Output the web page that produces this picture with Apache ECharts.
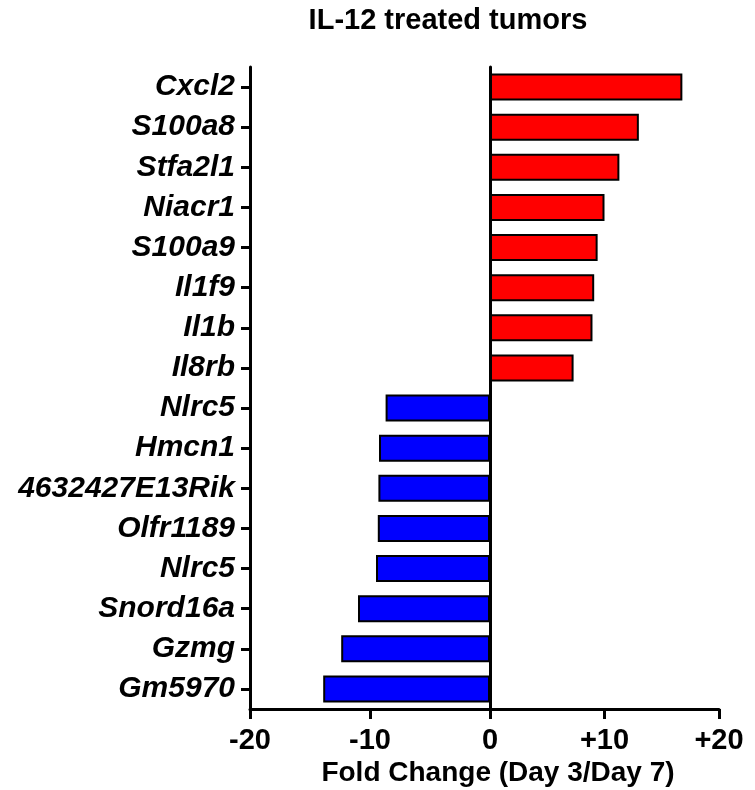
<!DOCTYPE html>
<html>
<head>
<meta charset="utf-8">
<script src="https://cdn.jsdelivr.net/npm/echarts@6/dist/echarts.min.js"></script>
<style>html,body{margin:0;padding:0;background:#fff}#c{width:755px;height:790px}</style>
</head>
<body>
<div id="c"></div>
<script>
const categories = ['Cxcl2','S100a8','Stfa2l1','Niacr1','S100a9','Il1f9','Il1b','Il8rb','Nlrc5','Hmcn1','4632427E13Rik','Olfr1189','Nlrc5 ','Snord16a','Gzmg','Gm5970'];
const upValues = [16.8, 13.0, 11.3, 10.0, 9.4, 9.1, 8.95, 7.3, '-', '-', '-', '-', '-', '-', '-', '-'];
const downValues = ['-', '-', '-', '-', '-', '-', '-', '-', -8.7, -9.25, -9.3, -9.35, -9.5, -11.0, -12.4, -13.9];
const negTicks = [-20, -10, 0];
const posTicks = ['+10', '+20'];

const FONT = '"Liberation Sans", Arial, Helvetica, sans-serif';
const chart = echarts.init(document.getElementById('c'));
const axisLineStyle = {color:'#000', width:3};
chart.setOption({
  animation:false,
  title:[
    {text:'IL-12 treated tumors', left:448, top:6, padding:0, textAlign:'center',
     textStyle:{fontFamily:FONT, fontWeight:'bold', fontSize:29, lineHeight:29, color:'#000'}},
    {text:'Fold Change (Day 3/Day 7)', left:498, top:759, padding:0, textAlign:'center',
     textStyle:{fontFamily:FONT, fontWeight:'bold', fontSize:28, lineHeight:28, color:'#000'}}
  ],
  grid:[
    {left:250, top:67, width:240, height:642},
    {left:490, top:67, width:229, height:642}
  ],
  xAxis:[
    {gridIndex:0, type:'value', min:-20, max:0, interval:10, splitLine:{show:false},
     axisLine:{show:true, onZero:false, lineStyle:axisLineStyle},
     axisTick:{show:true, length:10, lineStyle:{color:'#000', width:3}},
     axisLabel:{margin:17, fontFamily:FONT, fontWeight:'bold', fontSize:29, color:'#000',
       formatter:function(v){return negTicks.indexOf(v) >= 0 ? String(v) : '';}}},
    {gridIndex:1, type:'value', min:0, max:20, interval:10, splitLine:{show:false},
     axisLine:{show:true, onZero:false, lineStyle:axisLineStyle},
     axisTick:{show:true, length:10, lineStyle:{color:'#000', width:3}},
     axisLabel:{margin:17, showMinLabel:false, fontFamily:FONT, fontWeight:'bold', fontSize:29, color:'#000',
       formatter:function(v){return v === 10 ? posTicks[0] : (v === 20 ? posTicks[1] : '');}}}
  ],
  yAxis:[
    {gridIndex:0, type:'category', data:categories, inverse:true, position:'left',
     axisLine:{show:true, onZero:false, lineStyle:axisLineStyle},
     axisTick:{show:true, alignWithLabel:true, length:9, lineStyle:{color:'#000', width:3}},
     axisLabel:{margin:15, fontFamily:FONT, fontWeight:'bold', fontStyle:'italic', fontSize:30, color:'#000',
       formatter:function(v){return String(v).trim();}}},
    {gridIndex:1, type:'category', data:categories, inverse:true, position:'left',
     axisLine:{show:true, onZero:false, lineStyle:axisLineStyle},
     axisTick:{show:false}, axisLabel:{show:false}}
  ],
  series:[
    {type:'bar', xAxisIndex:0, yAxisIndex:0, data:downValues, barWidth:27,
     itemStyle:{color:'#0000FF', borderColor:'#000', borderWidth:2}},
    {type:'bar', xAxisIndex:1, yAxisIndex:1, data:upValues, barWidth:27,
     itemStyle:{color:'#FF0000', borderColor:'#000', borderWidth:2}}
  ]
});
</script>
</body>
</html>
